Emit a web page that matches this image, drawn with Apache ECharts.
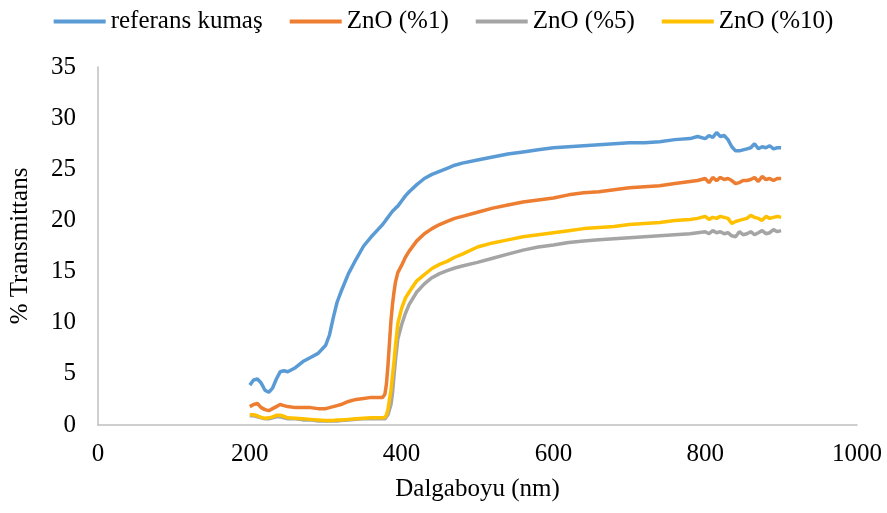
<!DOCTYPE html>
<html>
<head>
<meta charset="utf-8">
<script src="https://cdn.jsdelivr.net/npm/echarts@6/dist/echarts.min.js"></script>
<style>
  html, body { margin: 0; padding: 0; background: #fff; }
  #chart { width: 887px; height: 513px; }
</style>
</head>
<body>
<div id="chart"></div>
<script>
// wavelength (nm)
var wavelengths = [200,205,210,215,220,225,230,235,240,245,250,260,270,280,290,300,305,310,315,320,
  330,340,350,360,370,375,378,380,382,384,386,388,390,392,395,400,405,410,420,430,440,450,460,470,480,
  500,520,540,560,580,600,620,640,660,680,700,720,740,760,780,790,800,805,810,815,820,825,830,835,840,
  845,850,855,860,865,870,875,880,885,890,895,900]

var referans = [3.9,4.4,4.5,4.1,3.4,3.2,3.6,4.5,5.2,5.3,5.2,5.6,6.2,6.6,7.0,7.8,8.8,10.5,12.0,13.0,
  14.8,16.2,17.5,18.4,19.2,19.6,19.9,20.1,20.3,20.5,20.7,20.9,21.0,21.2,21.4,21.9,22.4,22.8,23.5,24.1,24.5,24.8,25.1,25.4,25.6,
  25.9,26.2,26.5,26.7,26.9,27.1,27.2,27.3,27.4,27.5,27.6,27.6,27.7,27.9,28.0,28.2,28.0,28.3,28.1,28.6,28.2,28.3,27.9,27.2,26.8,
  26.8,26.9,27.0,27.1,27.5,27.0,27.2,27.1,27.3,27.0,27.1,27.1]

var zno1 = [1.8,2.0,2.1,1.7,1.5,1.4,1.6,1.8,2.0,1.9,1.8,1.7,1.7,1.7,1.6,1.6,1.7,1.8,1.9,2.0,
  2.3,2.5,2.6,2.7,2.7,2.7,3.0,4.0,5.8,8.0,10.2,11.8,13.0,14.0,14.9,15.6,16.4,17.0,18.0,18.7,19.2,19.6,19.9,20.2,20.4,
  20.8,21.2,21.5,21.8,22.0,22.2,22.5,22.7,22.8,23.0,23.2,23.3,23.4,23.6,23.8,23.9,24.1,23.7,24.2,23.9,24.2,24.0,24.1,23.9,23.6,
  23.7,23.9,23.9,24.0,24.2,23.8,24.3,24.0,24.1,23.9,24.1,24.1]

var zno5 = [0.9,0.9,0.8,0.7,0.6,0.6,0.7,0.8,0.8,0.7,0.6,0.6,0.5,0.5,0.4,0.4,0.4,0.4,0.4,0.45,
  0.5,0.55,0.6,0.6,0.6,0.6,0.6,0.7,1.0,1.5,2.0,3.1,4.8,6.4,8.4,9.8,10.9,11.8,13.0,13.8,14.4,14.8,15.1,15.35,15.55,
  15.9,16.3,16.7,17.1,17.4,17.6,17.85,18.0,18.1,18.2,18.3,18.4,18.5,18.6,18.7,18.8,18.9,18.7,19.0,18.8,18.9,18.7,18.8,18.5,18.4,
  18.9,18.6,18.7,18.9,18.6,18.8,19.0,18.7,18.8,19.1,18.9,19.0]

var zno10 = [1.0,1.0,0.9,0.75,0.65,0.7,0.8,0.95,0.95,0.85,0.7,0.65,0.6,0.55,0.5,0.45,0.45,0.45,0.5,0.5,
  0.55,0.6,0.65,0.7,0.7,0.7,0.75,1.0,1.5,2.5,3.4,4.8,6.2,7.8,9.9,11.4,12.4,13.0,14.1,14.7,15.3,15.7,16.0,16.4,16.7,
  17.4,17.8,18.1,18.4,18.6,18.8,19.0,19.2,19.3,19.4,19.6,19.7,19.8,20.0,20.1,20.2,20.4,20.1,20.3,20.2,20.4,20.3,20.2,19.7,19.9,
  20.0,20.1,20.2,20.5,20.3,20.2,20.0,20.4,20.2,20.3,20.4,20.3]

var seriesNames = ['referans kumaş', 'ZnO (%1)', 'ZnO (%5)', 'ZnO (%10)']
var seriesColors = ['#5B9BD5', '#ED7D31', '#A5A5A5', '#FFC000']
var seriesValues = [referans, zno1, zno5, zno10]

var font = 'Liberation Serif, Times New Roman, serif'

function pairs(values) {
  return wavelengths.map(function (w, i) { return [w, values[i]] })
}

var chart = echarts.init(document.getElementById('chart'))
chart.setOption({
  animation: false,
  textStyle: { fontFamily: font, color: '#000' },
  legend: {
    data: seriesNames,
    top: 4,
    left: 'center',
    icon: 'rect',
    itemWidth: 52,
    itemHeight: 4,
    itemGap: 27,
    textStyle: { fontFamily: font, fontSize: 25, color: '#000' }
  },
  grid: {
    left: 98,
    right: 30,
    top: 67,
    bottom: 88
  },
  xAxis: {
    type: 'value',
    min: 0,
    max: 1000,
    interval: 200,
    name: 'Dalgaboyu (nm)',
    nameLocation: 'middle',
    nameGap: 52,
    nameTextStyle: { fontFamily: font, fontSize: 25, color: '#000' },
    axisLine: { lineStyle: { color: '#BFBFBF', width: 1.5 } },
    axisTick: { show: false },
    axisLabel: { fontFamily: font, fontSize: 25, color: '#000', margin: 17, formatter: function (v) { return String(v) } },
    splitLine: { show: false }
  },
  yAxis: {
    type: 'value',
    min: 0,
    max: 35,
    interval: 5,
    name: '% Transmittans',
    nameLocation: 'middle',
    nameGap: 65,
    nameTextStyle: { fontFamily: font, fontSize: 25, color: '#000' },
    axisLine: { show: true, lineStyle: { color: '#BFBFBF', width: 1.5 } },
    axisTick: { show: false },
    axisLabel: { fontFamily: font, fontSize: 25, color: '#000', margin: 22 },
    splitLine: { show: false }
  },
  series: seriesNames.map(function (name, k) {
    return {
      name: name,
      type: 'line',
      showSymbol: false,
      symbol: 'none',
      color: seriesColors[k],
      lineStyle: { color: seriesColors[k], width: 3.5 },
      data: pairs(seriesValues[k])
    }
  })
})
</script>
</body>
</html>
